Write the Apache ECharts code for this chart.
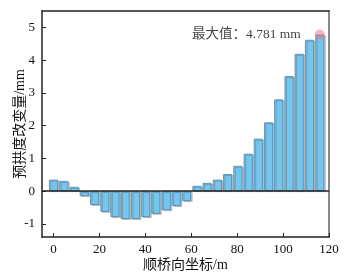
<!DOCTYPE html>
<html>
<head>
<meta charset="utf-8">
<script src="https://cdn.jsdelivr.net/npm/echarts@6/dist/echarts.min.js"></script>
<style>
  html, body { margin: 0; padding: 0; background: #fff; }
  #chart { width: 355px; height: 278px; }
</style>
</head>
<body>
<div id="chart"></div>
<script>
// bridge positions (m) and camber change (mm)
const positions = [0, 4.5, 9, 13.4, 17.9, 22.4, 26.8, 31.2, 35.7, 40.2, 44.6, 49.1, 53.5, 58,
  62.5, 66.9, 71.4, 75.8, 80.3, 84.8, 89.2, 93.7, 98.1, 102.6, 107, 111.5, 116];
const camber = [0.35, 0.31, 0.13, -0.15, -0.42, -0.63, -0.79, -0.85, -0.85, -0.79, -0.69, -0.58,
  -0.45, -0.30, 0.16, 0.25, 0.35, 0.52, 0.77, 1.14, 1.60, 2.10, 2.80, 3.51, 4.19, 4.62, 4.781];
const xTicks = [0, 20, 40, 60, 80, 100, 120];
const yTicks = [-1, 0, 1, 2, 3, 4, 5];
const maxPoint = [116, 4.781];
const maxLabel = '最大值：4.781 mm';

const fontFamily = '"Liberation Serif", "Noto Sans CJK SC", serif';

const chart = echarts.init(document.getElementById('chart'));

const barData = positions.map((x, i) => [x, camber[i]]);

chart.setOption({
  animation: false,
  grid: { left: 42, top: 11, right: 26, bottom: 41, containLabel: false, outerBoundsMode: 'none' },
  xAxis: [
    {
      type: 'value',
      min: -5,
      max: 120,
      name: '顺桥向坐标/m',
      nameLocation: 'middle',
      nameGap: 21,
      nameMoveOverlap: false,
      nameTextStyle: { fontFamily, fontSize: 14, color: '#111' },
      axisLine: { onZero: false, lineStyle: { color: '#222', width: 1.5 } },
      axisTick: { inside: true, length: 4, customValues: xTicks, lineStyle: { color: '#222' } },
      axisLabel: { customValues: xTicks, fontFamily, fontSize: 13, color: '#111', margin: 6 },
      splitLine: { show: false }
    },
    {
      type: 'value',
      position: 'top',
      min: -5,
      max: 120,
      axisLine: { show: true, onZero: false, lineStyle: { color: '#222', width: 1.5 } },
      axisTick: { show: false },
      axisLabel: { show: false },
      splitLine: { show: false }
    }
  ],
  yAxis: [
    {
      type: 'value',
      min: -1.4,
      max: 5.5,
      name: '预拱度改变量/mm',
      nameLocation: 'middle',
      nameGap: 15,
      nameMoveOverlap: false,
      nameTextStyle: { fontFamily, fontSize: 14, color: '#111' },
      axisLine: { show: true, onZero: false, lineStyle: { color: '#222', width: 1.5 } },
      axisTick: { show: true, inside: true, length: 4, customValues: yTicks, lineStyle: { color: '#222' } },
      axisLabel: { customValues: yTicks, fontFamily, fontSize: 13, color: '#111', margin: 7 },
      splitLine: { show: false }
    },
    {
      type: 'value',
      position: 'right',
      min: -1.4,
      max: 5.5,
      axisLine: { show: true, onZero: false, lineStyle: { color: '#888', width: 2 } },
      axisTick: { show: false },
      axisLabel: { show: false },
      splitLine: { show: false }
    }
  ],
  series: [
    {
      type: 'bar',
      data: barData,
      barWidth: 9,
      itemStyle: {
        color: '#76c5ed',
        borderColor: '#4f87aa',
        borderWidth: 0.8,
        shadowColor: 'rgba(0,0,0,0.22)',
        shadowOffsetX: 1.5,
        shadowOffsetY: 1,
        shadowBlur: 0
      },
      markLine: {
        silent: true,
        symbol: 'none',
        label: { show: false },
        lineStyle: { color: '#222', width: 1.5, type: 'solid' },
        data: [{ yAxis: 0 }]
      }
    },
    {
      type: 'scatter',
      data: [maxPoint],
      symbolSize: 10,
      itemStyle: { color: 'rgba(240,120,140,0.7)' },
      label: {
        show: true,
        position: 'left',
        distance: 14,
        formatter: maxLabel,
        fontFamily,
        fontSize: 13.5,
        color: '#111'
      },
      z: 5
    }
  ]
});
</script>
</body>
</html>
